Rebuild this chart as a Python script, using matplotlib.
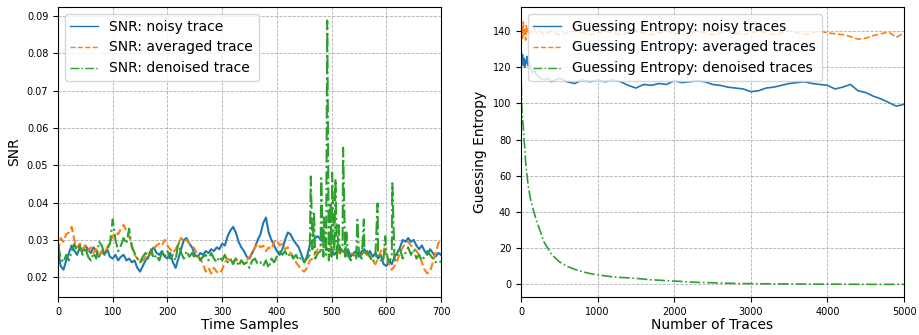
import matplotlib
matplotlib.use('Agg')
import matplotlib.pyplot as plt
import numpy as np

# ---- left panel: SNR per time sample (values in units of 1e-3) ----
snr_samples = np.arange(0, 701, 5)

snr_noisy = [
    27.5, 23.0, 22.0, 24.5, 26.5, 28.5, 27.0, 26.0, 28.0, 27.0,
    28.5, 27.5, 26.5, 28.0, 27.0, 25.5, 27.0, 26.0, 27.5, 25.5,
    25.0, 26.0, 24.5, 25.5, 26.0, 24.5, 25.0, 24.0, 24.5, 22.5,
    21.5, 23.0, 24.5, 25.5, 27.0, 28.0, 26.5, 26.0, 27.0, 25.5,
    25.0, 26.5, 24.0, 22.5, 25.0, 27.5, 30.0, 30.5, 29.0, 28.0,
    26.0, 25.5, 26.5, 26.0, 27.0, 26.5, 27.5, 27.0, 28.0, 27.5,
    29.0, 28.5, 31.0, 32.5, 33.5, 32.0, 29.5, 28.0, 27.0, 25.5,
    25.0, 26.5, 28.0, 30.0, 31.5, 34.5, 36.0, 32.0, 30.0, 28.5,
    27.0, 26.0, 27.5, 30.0, 32.0, 31.5, 30.0, 29.0, 28.0, 26.0,
    24.0, 25.5, 28.5, 29.5, 30.5, 31.0, 30.0, 29.5, 28.0, 27.0,
    27.5, 26.0, 27.0, 28.0, 27.0, 26.5, 27.5, 25.5, 26.5, 27.0,
    25.5, 27.0, 27.5, 26.0, 27.0, 25.5, 26.5, 25.0, 26.0, 23.5,
    23.0, 24.5, 23.5, 25.5, 26.5, 28.0, 30.0, 29.5, 30.5, 29.5,
    30.0, 28.5, 27.5, 28.5, 27.0, 26.0, 27.5, 26.5, 25.5, 26.5,
    26.0,
]

snr_averaged = [
    27.0, 30.5, 29.5, 31.5, 32.0, 33.5, 30.0, 28.0, 29.0, 27.5,
    28.5, 27.0, 28.0, 26.5, 27.5, 26.0, 27.0, 26.5, 28.0, 29.5,
    31.0, 32.0, 31.5, 33.0, 34.0, 32.5, 31.0, 28.5, 26.0, 25.0,
    24.0, 24.5, 25.5, 26.5, 26.0, 27.5, 28.5, 29.0, 28.5, 30.0,
    28.5, 27.5, 26.5, 27.5, 29.0, 30.5, 29.5, 30.0, 29.0, 28.5,
    27.5, 26.0, 25.0, 23.5, 21.5, 22.5, 21.0, 22.5, 21.5, 21.0,
    22.0, 24.0, 25.0, 24.5, 24.0, 25.0, 24.0, 24.5, 23.5, 24.5,
    25.5, 26.5, 28.0, 29.0, 28.0, 28.5, 27.0, 28.0, 27.5, 29.5,
    30.0, 28.5, 29.0, 27.5, 28.0, 26.5, 25.5, 24.0, 23.0, 22.0,
    21.5, 22.5, 24.5, 25.0, 26.5, 27.5, 28.5, 29.0, 28.5, 29.0,
    28.0, 27.0, 27.5, 26.5, 26.0, 26.5, 25.5, 26.5, 26.0, 25.5,
    25.0, 26.0, 27.0, 26.0, 25.5, 24.5, 23.5, 25.0, 27.0, 28.0,
    26.0, 23.5, 22.0, 23.0, 24.5, 26.5, 28.0, 29.0, 29.5, 28.5,
    28.0, 27.0, 26.0, 24.0, 22.0, 21.0, 21.5, 24.0, 26.5, 29.0,
    30.5,
]

snr_denoised = [
    29.0, 25.0, 24.0, 26.0, 24.5, 27.0, 29.0, 26.5, 28.5, 26.0,
    28.0, 25.5, 24.5, 26.5, 25.0, 29.5, 28.5, 26.0, 27.5, 29.0,
    35.5, 30.0, 27.0, 28.5, 30.5, 29.0, 33.0, 28.0, 26.5, 25.0,
    24.0, 25.5, 26.5, 25.0, 27.5, 25.0, 26.0, 24.5, 26.5, 25.5,
    27.0, 25.0, 26.0, 24.5, 29.5, 26.5, 25.0, 27.0, 25.5, 26.5,
    25.0, 26.0, 24.5, 25.5, 26.0, 24.5, 26.5, 25.0, 24.0, 25.5,
    24.5, 26.0, 24.0, 25.0, 23.5, 25.0, 23.0, 24.5, 23.5, 24.0,
    22.5, 24.5, 25.0, 23.5, 24.0, 23.0, 24.5, 22.5, 25.0, 24.0,
    25.5, 27.5, 26.0, 27.0, 25.5, 26.5, 25.0, 26.0, 24.5, 25.5,
    24.0, 25.0, 26.0, 27.5, 25.0, 26.5, 27.0, 25.5, 26.0, 24.5,
    25.5, 27.0, 25.0, 26.5, 27.5, 25.5, 26.0, 24.5, 26.0, 25.0,
    26.5, 25.0, 26.0, 27.0, 25.5, 24.0, 25.5, 26.0, 24.5, 25.0,
    26.5, 24.0, 25.5, 24.5, 26.0, 27.5, 25.0, 26.5, 28.0, 26.0,
    27.5, 25.0, 26.0, 24.5, 25.5, 27.0, 26.0, 25.0, 24.0, 24.5,
    24.0,
]

# narrow peaks of the denoised trace between the regular samples
spike_samples = [462, 468, 481, 486, 492, 498, 501, 507, 513, 521, 527, 547, 559, 584, 598, 611]
spike_values = [47.0, 37.0, 46.5, 36.0, 88.8, 40.0, 48.0, 46.3, 34.0, 54.7, 32.0, 35.4, 35.5, 39.8, 31.0, 45.2]

# ---- right panel: guessing entropy vs number of traces ----
ge_traces = ([0, 10, 20, 30, 40, 50, 60, 70, 80, 90, 100, 125, 150, 175, 200,
              250, 300, 350, 400, 450, 500] + list(range(600, 5001, 100)))

ge_noisy = [
    130, 124, 127, 121, 125, 120, 124, 122, 126, 121, 123, 119, 117, 118, 116,
    114, 113, 114, 112, 113, 114,
    112, 111, 113, 112, 113, 112, 113, 112, 110, 108.5,
    110.5, 110, 111, 110.5, 112.5, 111.5, 112, 112.5, 112, 110.5,
    110, 109, 108.5, 108, 106.5, 107, 108.5, 109, 110, 111,
    111.5, 112, 111, 110.5, 110, 108, 109, 110.5, 107, 106,
    104, 102.5, 100.5, 98.5, 99.5,
]

ge_averaged = [
    132, 142, 136, 145, 138, 141, 135, 143, 139, 141, 138, 140, 139, 141, 139,
    140, 138, 139, 140, 139, 138,
    139, 140, 139, 138, 139, 140, 139, 138, 139, 140,
    139, 138, 139, 140, 139, 138, 139, 140, 139, 138,
    139, 140, 139, 138, 139, 140, 139, 138, 139, 140,
    139, 138, 139, 140, 139, 138.5, 138, 137, 135.5, 136,
    137.5, 138.5, 139.5, 136.5, 139,
]

ge_denoised = [
    120, 98, 92, 87, 80, 75, 68, 63, 60, 56, 53, 47, 43, 39, 35.5,
    29.5, 23.5, 20, 16.5, 14.5, 12.5,
    10, 8.3, 7, 6, 5.2, 4.7, 4.1, 3.8, 3.6, 3.3,
    2.9, 2.5, 2.3, 2.0, 1.8, 1.6, 1.3, 1.1, 1.0, 0.9,
    0.7, 0.6, 0.5, 0.45, 0.4, 0.35, 0.3, 0.3, 0.25, 0.2,
    0.2, 0.15, 0.15, 0.1, 0.1, 0.1, 0.1, 0.05, 0.05, 0.05,
    0, 0, 0, 0, 0,
]

# merge the peaks into the denoised series
den_t = np.concatenate([snr_samples, spike_samples])
den_v = np.concatenate([snr_denoised, spike_values])
order = np.argsort(den_t)
den_t, den_v = den_t[order], den_v[order]

fig = plt.figure(figsize=(9.19, 3.35), dpi=100)
ax1 = fig.add_axes([0.0631, 0.1134, 0.4168, 0.8657])
ax2 = fig.add_axes([0.5669, 0.1134, 0.4168, 0.8657])

ax1.plot(snr_samples, np.array(snr_noisy) * 1e-3, '-', color='C0', lw=1.5, label='SNR: noisy trace')
ax1.plot(snr_samples, np.array(snr_averaged) * 1e-3, '--', color='C1', lw=1.5, label='SNR: averaged trace')
ax1.plot(den_t, den_v * 1e-3, '-.', color='C2', lw=1.5, label='SNR: denoised trace')
ax1.set_xlim(0, 700)
ax1.set_ylim(0.0147, 0.0924)
ax1.set_xlabel('Time Samples', fontsize=10, labelpad=1)
ax1.set_ylabel('SNR', fontsize=10)
leg1 = ax1.legend(loc='upper left', fontsize=10)

ax2.plot(ge_traces, ge_noisy, '-', color='C0', lw=1.2, label='Guessing Entropy: noisy traces')
ax2.plot(ge_traces, ge_averaged, '--', color='C1', lw=1.2, label='Guessing Entropy: averaged traces')
ax2.plot(ge_traces, ge_denoised, '-.', color='C2', lw=1.2, label='Guessing Entropy: denoised traces')
ax2.set_xlim(0, 5000)
ax2.set_ylim(-7, 153.3)
ax2.set_xlabel('Number of Traces', fontsize=10, labelpad=1)
ax2.set_ylabel('Guessing Entropy', fontsize=10)
leg2 = ax2.legend(loc='upper left', fontsize=10)

for leg in (leg1, leg2):
    for line in leg.get_lines():
        line.set_linewidth(1.0)

for ax in (ax1, ax2):
    ax.grid(True, linestyle='--', color='#b0b0b0', lw=0.6)
    ax.tick_params(labelsize=7)

plt.savefig('out.png', dpi=100)
